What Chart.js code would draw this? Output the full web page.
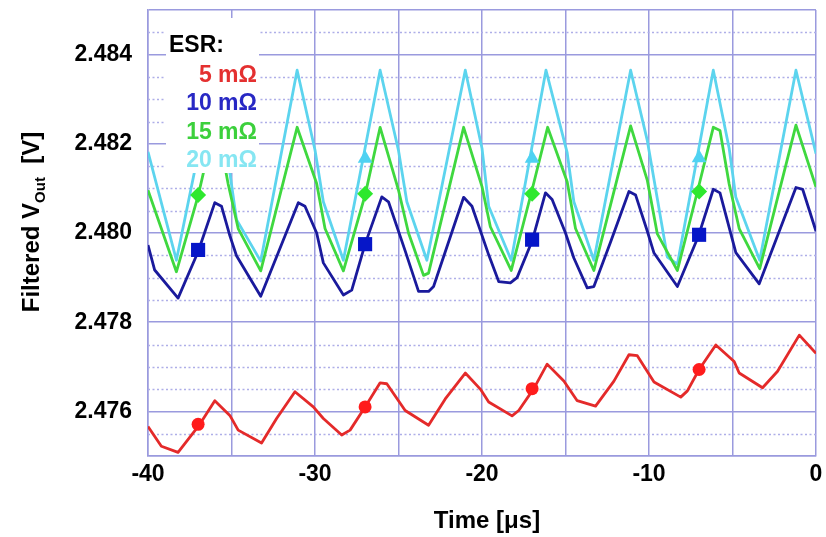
<!DOCTYPE html>
<html>
<head>
<meta charset="utf-8">
<script src="https://cdn.jsdelivr.net/npm/chart.js@4.4.1/dist/chart.umd.min.js"></script>
<style>
  html, body { margin: 0; padding: 0; background: #fff; }
  canvas { display: block; }
</style>
</head>
<body>
<canvas id="esrChart" width="826" height="537"></canvas>
<script>
// time axis in microseconds, filtered output voltage in volts
const tRed = [-40, -39.2, -38.2, -36.9, -36.0, -35.1, -34.6, -33.2, -32.3, -31.2, -30.1, -29.5, -28.4, -27.9, -27.0,
  -26.1, -25.7, -24.6, -23.2, -22.2, -21.0, -20.1, -19.6, -18.2, -17.8, -16.9, -16.1, -15.1, -14.3, -13.2,
  -12.1, -11.2, -10.7, -9.7, -8.1, -7.7, -7.0, -6.0, -4.9, -4.6, -3.2, -2.3, -1.0, 0];
const vRed = [2.47566, 2.47522, 2.47508, 2.47571, 2.47624, 2.47591, 2.47558, 2.47529, 2.47584, 2.47644, 2.47610, 2.47584, 2.47547, 2.47558, 2.47610,
  2.47664, 2.47662, 2.47602, 2.47569, 2.47628, 2.47686, 2.47650, 2.47621, 2.47590, 2.47602, 2.47651, 2.47706, 2.47668, 2.47624, 2.47612,
  2.47668, 2.47727, 2.47725, 2.47666, 2.47632, 2.47646, 2.47694, 2.47749, 2.47712, 2.47686, 2.47653, 2.47690, 2.47771, 2.47730];

const tBlue = [-40, -39.6, -38.2, -37.0, -36.0, -35.6, -35.1, -34.7, -33.25, -31.0, -30.6, -29.9, -29.5, -28.3, -27.8,
  -27.0, -26.0, -25.6, -24.6, -23.8, -23.2, -22.9, -21.1, -20.6, -19.6, -19.0, -18.3, -17.9, -17.0, -16.2,
  -15.8, -15.0, -14.5, -13.7, -13.3, -12.3, -11.2, -10.8, -10.1, -9.7, -8.3, -7.05, -6.15, -5.75, -4.8,
  -3.4, -1.2, -0.8, 0];
const vBlue = [2.47973, 2.47917, 2.47854, 2.47958, 2.48068, 2.48060, 2.47994, 2.47949, 2.47858, 2.48068, 2.48060, 2.48000, 2.47933, 2.47861, 2.47872,
  2.47975, 2.48081, 2.48070, 2.47960, 2.47869, 2.47869, 2.47880, 2.48080, 2.48060, 2.47951, 2.47891, 2.47888, 2.47900, 2.47982, 2.48090,
  2.48075, 2.48000, 2.47944, 2.47877, 2.47880, 2.47980, 2.48093, 2.48085, 2.48004, 2.47955, 2.47880, 2.47992, 2.48098, 2.48090, 2.47956,
  2.47886, 2.48102, 2.48098, 2.48004];

const tGreen = [-40, -38.3, -37.0, -36.1, -35.7, -35.2, -34.6, -33.25, -31.07, -29.9, -29.4, -28.3, -27.0, -26.1, -25.0,
  -24.4, -23.5, -23.2, -21.1, -20.0, -19.5, -18.25, -17.06, -16.07, -14.9, -14.4, -13.3, -11.1, -10.1, -9.5,
  -8.3, -7.1, -6.15, -5.75, -5.2, -4.6, -3.37, -1.2, 0];
const vGreen = [2.48096, 2.47913, 2.48083, 2.48230, 2.48210, 2.48110, 2.48010, 2.47915, 2.48237, 2.48111, 2.48010, 2.47915, 2.48085, 2.48237, 2.48096,
  2.48000, 2.47905, 2.47910, 2.48237, 2.48104, 2.48014, 2.47916, 2.48088, 2.48237, 2.48115, 2.48010, 2.47916, 2.48240, 2.48118, 2.47998,
  2.47916, 2.48093, 2.48237, 2.48230, 2.48110, 2.48010, 2.47920, 2.48242, 2.48103];

const tCyan = [-40, -38.3, -36.0, -35.1, -34.7, -33.25, -31.07, -30.0, -29.5, -28.3, -26.1, -25.0, -24.5, -23.3, -21.0,
  -20.0, -19.6, -18.25, -16.17, -14.9, -14.5, -13.3, -11.1, -10.1, -8.9, -8.3, -6.15, -5.2, -4.8, -3.37,
  -1.2, 0];
const vCyan = [2.48182, 2.47939, 2.48360, 2.48135, 2.48030, 2.47937, 2.48365, 2.48186, 2.48070, 2.47939, 2.48365, 2.48185, 2.48070, 2.47939, 2.48365,
  2.48190, 2.48060, 2.47939, 2.48365, 2.48180, 2.48070, 2.47939, 2.48365, 2.48207, 2.47946, 2.47930, 2.48365, 2.48190, 2.48080, 2.47939,
  2.48365, 2.48178];

// marker positions (one every other cycle)
const markerT = [-37, -27, -17, -7];
const mkRed = [2.47571, 2.47610, 2.47651, 2.47694];
const mkBlue = [2.47962, 2.47975, 2.47985, 2.47996];
const mkGreen = [2.48085, 2.48088, 2.48088, 2.48093];
const mkCyan = [2.48165, 2.48167, 2.48167, 2.48168];

const esrLabels = ['5 m\u03A9', '10 m\u03A9', '15 m\u03A9', '20 m\u03A9'];
const xTicks = [-40, -30, -20, -10, 0];
const yTicks = [2.476, 2.478, 2.480, 2.482, 2.484];

const lineColors = ['#e42a2a', '#1a1a9c', '#3fd83f', '#5cd4ee'];
const markColors = ['#ff1c1c', '#0616c8', '#2ee82e', '#4fd2f2'];
const textColors = ['#e43030', '#2828c4', '#3cd03c', '#86e6f2'];

const Y_MIN = 2.475, Y_MAX = 2.485;
const FONT = '"Liberation Sans", Arial, sans-serif';

function pts(ts, vs) {
  return ts.map((t, i) => ({ x: t, y: vs[i] }));
}

function lineSet(ts, vs, color) {
  return {
    type: 'line', data: pts(ts, vs), borderColor: color, borderWidth: 2.8,
    pointRadius: 0, tension: 0, fill: false, borderJoinStyle: 'round'
  };
}

function markSet(vs, color, style, r) {
  return {
    type: 'scatter', data: pts(markerT, vs), showLine: false,
    pointStyle: style, pointRadius: r, pointBackgroundColor: color,
    pointBorderColor: color, pointBorderWidth: 0
  };
}

const solidGrid = '#9a9ade';

const overlay = {
  id: 'overlay',
  beforeDatasetsDraw(chart) {
    // dotted minor grid every 0.0005 V
    const { ctx, chartArea: a, scales: { y } } = chart;
    ctx.save();
    ctx.strokeStyle = '#aeaee8';
    ctx.lineWidth = 1.4;
    ctx.setLineDash([2, 2.5]);
    for (let k = 1; k < 20; k++) {
      if (k % 4 === 2) continue;
      const py = Math.round(y.getPixelForValue(Y_MIN + k * 0.0005)) + 0.5;
      ctx.beginPath();
      ctx.moveTo(a.left, py);
      ctx.lineTo(a.right, py);
      ctx.stroke();
    }
    ctx.restore();
  },
  afterDatasetsDraw(chart) {
    // legend block with white background
    const ctx = chart.ctx;
    ctx.save();
    ctx.fillStyle = '#fff';
    ctx.fillRect(166, 18, 93, 155);
    ctx.font = 'bold 23px ' + FONT;
    ctx.textBaseline = 'alphabetic';
    ctx.fillStyle = '#000';
    ctx.textAlign = 'left';
    ctx.fillText('ESR:', 169, 52);
    ctx.textAlign = 'right';
    esrLabels.forEach((lab, i) => {
      ctx.fillStyle = textColors[i];
      ctx.fillText(lab, 257, 82 + i * 28.3);
    });
    ctx.restore();
  },
  afterDraw(chart) {
    const ctx = chart.ctx;
    ctx.save();
    ctx.fillStyle = '#000';
    // x title
    ctx.font = 'bold 24px ' + FONT;
    ctx.textAlign = 'center';
    ctx.textBaseline = 'alphabetic';
    ctx.fillText('Time [\u03BCs]', 487, 528);
    // y title with subscript
    ctx.translate(39, 222);
    ctx.rotate(-Math.PI / 2);
    const mainFont = 'bold 24px ' + FONT, subFont = 'bold 15px ' + FONT;
    ctx.font = mainFont;
    const w1 = ctx.measureText('Filtered V').width;
    const w3 = ctx.measureText('  [V]').width;
    ctx.font = subFont;
    const w2 = ctx.measureText('Out').width;
    let x0 = -(w1 + w2 + w3) / 2;
    ctx.textAlign = 'left';
    ctx.font = mainFont;
    ctx.fillText('Filtered V', x0, 0);
    ctx.font = subFont;
    ctx.fillText('Out', x0 + w1, 6);
    ctx.font = mainFont;
    ctx.fillText('  [V]', x0 + w1 + w2, 0);
    ctx.restore();
  }
};

new Chart(document.getElementById('esrChart'), {
  data: {
    datasets: [
      markSet(mkRed, markColors[0], 'circle', 6.5),
      markSet(mkBlue, markColors[1], 'rect', 10),
      markSet(mkGreen, markColors[2], 'rectRot', 8),
      markSet(mkCyan, markColors[3], 'triangle', 8.5),
      lineSet(tRed, vRed, lineColors[0]),
      lineSet(tBlue, vBlue, lineColors[1]),
      lineSet(tGreen, vGreen, lineColors[2]),
      lineSet(tCyan, vCyan, lineColors[3])
    ]
  },
  options: {
    responsive: false,
    animation: false,
    devicePixelRatio: 1,
    layout: { padding: { left: 0, right: 6, top: 10, bottom: 0 } },
    plugins: { legend: { display: false }, tooltip: { enabled: false } },
    scales: {
      x: {
        type: 'linear', min: -40, max: 0,
        afterFit: s => { s.height = 81; s.paddingLeft = 0; s.paddingRight = 0; },
        border: { color: solidGrid, width: 1.5 },
        grid: { color: solidGrid, lineWidth: 1.5, drawTicks: false },
        ticks: {
          stepSize: 5, autoSkip: false, maxRotation: 0, padding: 5, color: '#000',
          font: { family: FONT, size: 23, weight: 'bold' },
          callback: v => xTicks.includes(v) ? String(v) : ''
        }
      },
      y: {
        type: 'linear', min: Y_MIN, max: Y_MAX,
        afterFit: s => { s.width = 148; s.paddingTop = 0; s.paddingBottom = 0; },
        border: { color: solidGrid, width: 1.5 },
        grid: {
          lineWidth: 1.5, drawTicks: false,
          color: c => {
            const k = Math.round((c.tick.value - Y_MIN) / 0.0005);
            return (k % 4 === 2 || k === 0 || k === 20) ? solidGrid : 'rgba(0,0,0,0)';
          }
        },
        ticks: {
          stepSize: 0.001, autoSkip: false, padding: 16, color: '#000',
          font: { family: FONT, size: 23, weight: 'bold' },
          callback: v => yTicks.some(t => Math.abs(t - v) < 1e-7) ? v.toFixed(3) : ''
        }
      }
    }
  },
  plugins: [overlay]
});
</script>
</body>
</html>
